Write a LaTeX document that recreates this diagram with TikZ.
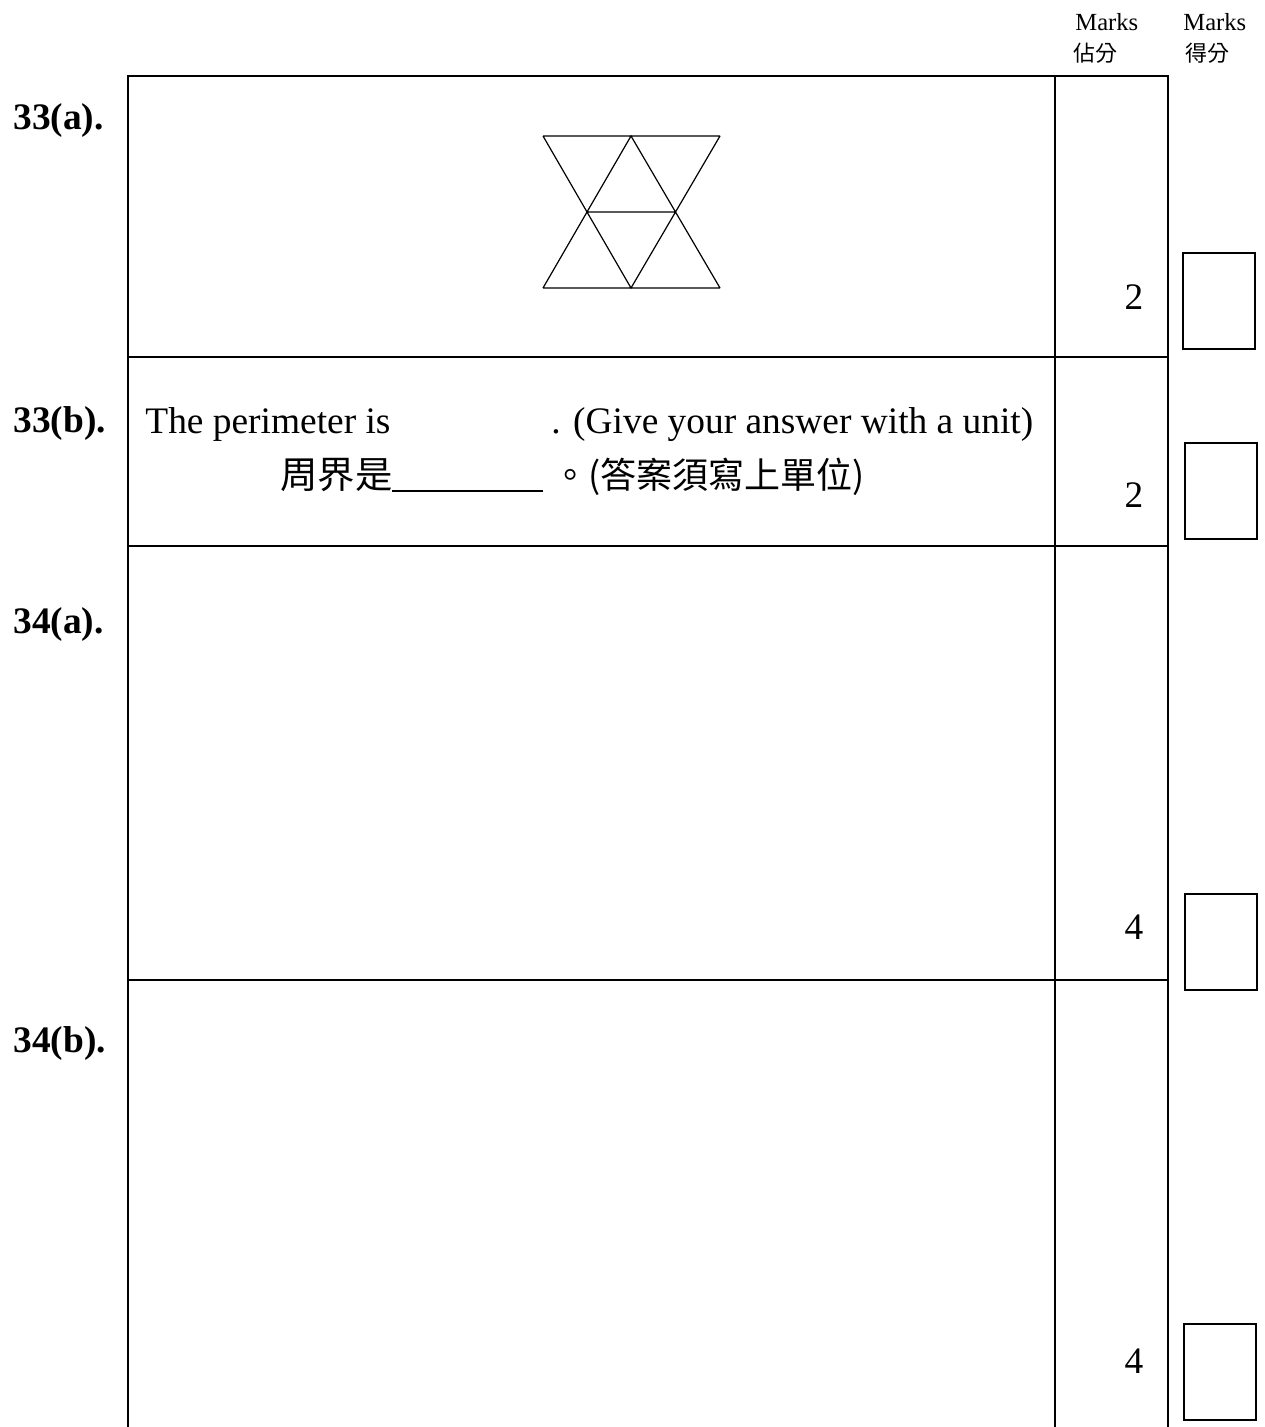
\documentclass[tikz,border=0pt]{standalone}
\usepackage{fontspec}
\setmainfont{Liberation Serif}
\newfontfamily\cjk{Noto Sans CJK TC}
\usetikzlibrary{positioning}
\tikzset{
rule/.style={line width=1pt},
scorebox/.style={draw, line width=0.8pt, minimum width=36pt, minimum height=48pt, inner sep=0pt},
qlabel/.style={anchor=base west, inner sep=0pt, font=\fontsize{18.7}{22}\selectfont\bfseries},
body/.style={anchor=base west, inner sep=0pt, font=\fontsize{18.7}{22}\selectfont},
markno/.style={anchor=base, inner sep=0pt, font=\fontsize{18.7}{22}\selectfont},
head/.style={anchor=base west, inner sep=0pt, font=\fontsize{12.3}{14}\selectfont},
headzh/.style={anchor=base west, inner sep=0pt, font=\fontsize{11}{14}\selectfont\cjk},
}
\newcommand{\zh}[1]{{\cjk #1}}

\begin{document}
\begin{tikzpicture}[x=0.5pt, y=-0.5pt]
    \useasboundingbox (0,0) rectangle (1264,1427);
    % table
    \draw[rule] (128,1427) -- (128,76) -- (1168,76) -- (1168,1427);
    \draw[rule] (1055,76) -- (1055,1427);
    \foreach \y in {357,546,980}
        \draw[rule] (128,\y) -- (1168,\y);
    % header
    \node[head] (est) at (1075,31) {Marks};
    \node[headzh] (estzh) at (1073,62) {佔分};
    \node[head] (got) at (1183,31) {Marks};
    \node[headzh] (gotzh) at (1185,62) {得分};
    % question labels
    \node[qlabel] (q33a) at (13,130) {33(a).};
    \node[qlabel] (q33b) at (13,432) {33(b).};
    \node[qlabel] (q34a) at (13,633) {34(a).};
    \node[qlabel] (q34b) at (13,1052) {34(b).};
    % figure
    \coordinate (a1) at (543,136);
    \coordinate (a2) at (631,136);
    \coordinate (a3) at (720,136);
    \coordinate (b1) at (587,212);
    \coordinate (b2) at (675,212);
    \coordinate (c1) at (543,288);
    \coordinate (c2) at (631,288);
    \coordinate (c3) at (720,288);
    \draw[line width=0.6pt] (a1) -- (a3) (b1) -- (b2) (c1) -- (c3)
        (a1) -- (c2) -- (a3) (c1) -- (a2) -- (c3);
    % 33(b)
    \node[body] (en1) at (145,433) {The perimeter is};
    \node[body] (en2) at (551,433) {. (Give your answer with a unit)};
    \node[body] (zh1) at (280,488) {\zh{周界是}};
    \coordinate (u1) at (392,491);
    \coordinate (u2) at (543,491);
    \draw[line width=1pt] (u1) -- (u2);
    \node[body, font=\fontsize{18}{22}\selectfont] (zh2) at (552,488) {\zh{。(答案須寫上單位)}};
    % marks
    \node[markno] (m1) at (1134,310) {2};
    \node[markno] (m2) at (1134,507) {2};
    \node[markno] (m3) at (1134,939) {4};
    \node[markno] (m4) at (1134,1373) {4};
    % score boxes
    \node[scorebox] (s1) at (1219,301) {};
    \node[scorebox] (s2) at (1221,491) {};
    \node[scorebox] (s3) at (1221,942) {};
    \node[scorebox] (s4) at (1220,1372) {};
\end{tikzpicture}
\end{document}
